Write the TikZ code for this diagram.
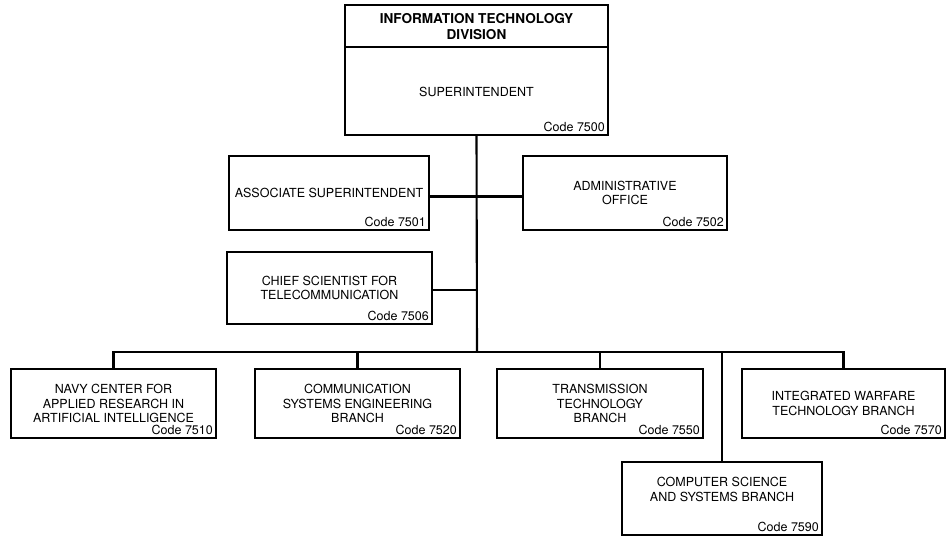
\documentclass[tikz,border=0pt]{standalone}
\usepackage{fontspec}
\setmainfont{TeX Gyre Heros}
\newcommand{\fs}{\fontsize{12.5}{14.8}\selectfont}
\newcommand{\fb}{\fontsize{13.6}{16.8}\selectfont\bfseries}
\tikzset{
  box/.style={draw, line width=1.5pt, rectangle, inner sep=0pt, outer sep=0pt,
              align=center, font=\fs, anchor=north west},
  codetxt/.style={anchor=south east, font=\fs, inner sep=0pt},
  wire/.style={line width=2.1pt},
  txt/.style={align=center, inner sep=0pt},
}
\newcommand{\orgbox}[6]{%
  \node[box, minimum width={#4-#2}, minimum height={#5-#3}] (#1) at (#2,#3) {#6};}
\newcommand{\orgcode}[2]{%
  \node[codetxt] (#1code) at ([xshift=-3pt,yshift=3.5pt]#1.south east) {Code #2};}
\begin{document}
\begin{tikzpicture}[x=1pt,y=-1pt]
\useasboundingbox (0,0) rectangle (948,537);
% top box
\orgbox{top}{345}{5}{608}{135}{}
\coordinate (divl) at (345,47);
\coordinate (divr) at (608,47);
\draw[line width=1.5pt] (divl) -- (divr);
\node[txt, font=\fb] (title) at (476.5,26.5) {INFORMATION TECHNOLOGY\\DIVISION};
\node[txt, font=\fs] (supt) at (476.5,92) {SUPERINTENDENT};
\orgcode{top}{7500}
% staff boxes
\orgbox{assoc}{229}{156}{429}{230}{ASSOCIATE SUPERINTENDENT}
\orgcode{assoc}{7501}
\orgbox{admin}{523}{156}{727}{230}{ADMINISTRATIVE\\OFFICE}
\orgcode{admin}{7502}
\orgbox{chief}{227}{252}{432}{324}{CHIEF SCIENTIST FOR\\TELECOMMUNICATION}
\orgcode{chief}{7506}
% branches
\orgbox{navy}{11}{369}{216}{438}{NAVY CENTER FOR\\APPLIED RESEARCH IN\\ARTIFICIAL INTELLIGENCE}
\orgcode{navy}{7510}
\orgbox{comm}{255}{369}{460}{438}{COMMUNICATION\\SYSTEMS ENGINEERING\\BRANCH}
\orgcode{comm}{7520}
\orgbox{trans}{497}{369}{703}{438}{TRANSMISSION\\TECHNOLOGY\\BRANCH}
\orgcode{trans}{7550}
\orgbox{integ}{742}{369}{945}{438}{INTEGRATED WARFARE\\TECHNOLOGY BRANCH}
\orgcode{integ}{7570}
\orgbox{cs}{622}{462}{822}{535}{}
\node[txt, font=\fs] (cstext) at ([yshift=9pt]cs.center) {COMPUTER SCIENCE\\AND SYSTEMS BRANCH};
\orgcode{cs}{7590}
% connectors
\coordinate (j) at (477,352);
\draw[wire] (top.south) -- (j);
\draw[wire] ([yshift=-3.5pt]assoc.east) -- ([yshift=-3.5pt]admin.west);
\draw[wire] ([yshift=-2pt]chief.east) -- ([yshift=-2pt]chief.east -| top.south);
\draw[wire] (navy.north) |- (j) -| (integ.north);
\draw[wire] (comm.north) -- (comm.north |- j);
\draw[wire] (trans.north) -- (trans.north |- j);
\draw[wire] (j -| cs.north) -- (cs.north);
\end{tikzpicture}
\end{document}
